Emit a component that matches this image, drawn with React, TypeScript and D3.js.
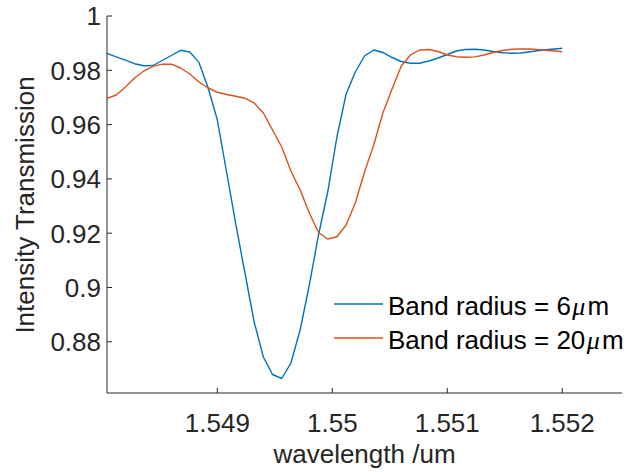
import React, { useEffect, useRef } from 'react';
import * as d3 from 'd3';

// wavelength samples (um)
const wavelength = [
  1.54804, 1.54812, 1.5482, 1.54828, 1.54836, 1.54844, 1.54852, 1.5486, 1.54868, 1.54876,
  1.54884, 1.54892, 1.549, 1.54908, 1.54916, 1.54924, 1.54932, 1.5494, 1.54948, 1.54956,
  1.54964, 1.54972, 1.5498, 1.54988, 1.54996, 1.55004, 1.55012, 1.5502, 1.55028, 1.55036,
  1.55044, 1.55052, 1.5506, 1.55068, 1.55076, 1.55084, 1.55092, 1.551, 1.55108, 1.55116,
  1.55124, 1.55132, 1.5514, 1.55148, 1.55156, 1.55164, 1.55172, 1.5518, 1.55188, 1.55196,
  1.552,
];

// Band radius = 6um
const radius6 = [
  0.98626, 0.98497, 0.98372, 0.98243, 0.98166, 0.98177, 0.98361, 0.98545, 0.98737, 0.98674,
  0.98291, 0.97348, 0.96169, 0.94254, 0.92339, 0.90534, 0.88729, 0.8744, 0.86796, 0.86648,
  0.87219, 0.88435, 0.90092, 0.91934, 0.93517, 0.95543, 0.97127, 0.97937, 0.98527, 0.98748,
  0.98656, 0.98471, 0.98324, 0.98258, 0.98258, 0.98343, 0.98453, 0.98582, 0.98711, 0.98766,
  0.98777, 0.98748, 0.98692, 0.98645, 0.9863, 0.98637, 0.98685, 0.98729, 0.98766, 0.98796,
  0.9881,
];

// Band radius = 20um
const radius20 = [
  0.96969, 0.9709, 0.97385, 0.97716, 0.97974, 0.98147, 0.98225, 0.98225, 0.98085, 0.97864,
  0.97569, 0.97348, 0.9719, 0.97109, 0.97042, 0.96969, 0.96796, 0.96427, 0.95801, 0.95175,
  0.94291, 0.93591, 0.92744, 0.92026, 0.91786, 0.91871, 0.92302, 0.93112, 0.94254, 0.95249,
  0.96427, 0.97311, 0.98158, 0.98564, 0.98748, 0.98766, 0.98692, 0.98564, 0.98497, 0.98479,
  0.98494, 0.98564, 0.98656, 0.98729, 0.98773, 0.98785, 0.98785, 0.98762, 0.98729, 0.987,
  0.98685,
];

const xTicks = [1.549, 1.55, 1.551, 1.552];
const yTicks = [0.88, 0.9, 0.92, 0.94, 0.96, 0.98, 1];

const seriesNames = ['Band radius = 6', 'Band radius = 20'];
const seriesColors = ['#0072BD', '#D95319'];

const W = 630;
const H = 472;
const FONT = "'Liberation Sans', Arial, Helvetica, sans-serif";

const App = () => {
  const chartRef = useRef<SVGSVGElement>(null);

  useEffect(() => {
    document.body.style.margin = '0';
    const svg = d3.select(chartRef.current);
    svg.selectAll('*').remove();

    const x = d3.scaleLinear().domain([1.54804, 1.55252]).range([107, 622]);
    const y = d3.scaleLinear().domain([0.86114, 1]).range([393, 16]);

    const axisColor = '#262626';

    // curves
    const series = [radius6, radius20];
    const line = d3
      .line<number>()
      .x((_, i) => x(wavelength[i]))
      .y(d => y(d));

    series.forEach((s, k) => {
      svg
        .append('path')
        .attr('d', line(s))
        .attr('fill', 'none')
        .attr('stroke', seriesColors[k])
        .attr('stroke-width', 1.4)
        .attr('stroke-linejoin', 'round');
    });

    // axis lines
    svg
      .append('line')
      .attr('x1', x.range()[0]).attr('x2', x.range()[0])
      .attr('y1', y.range()[0]).attr('y2', y.range()[1])
      .attr('stroke', axisColor);
    svg
      .append('line')
      .attr('x1', x.range()[0]).attr('x2', x.range()[1])
      .attr('y1', y.range()[0]).attr('y2', y.range()[0])
      .attr('stroke', axisColor);

    // y ticks (inward)
    const gy = svg.append('g');
    yTicks.forEach(t => {
      gy.append('line')
        .attr('x1', x.range()[0]).attr('x2', x.range()[0] + 5)
        .attr('y1', y(t)).attr('y2', y(t))
        .attr('stroke', axisColor);
      gy.append('text')
        .attr('x', 101)
        .attr('y', y(t))
        .attr('dy', '0.36em')
        .attr('text-anchor', 'end')
        .attr('fill', axisColor)
        .style('font-family', FONT)
        .style('font-size', '26px')
        .text(String(t));
    });

    // x ticks (inward)
    const gx = svg.append('g');
    xTicks.forEach(t => {
      gx.append('line')
        .attr('x1', x(t)).attr('x2', x(t))
        .attr('y1', y.range()[0]).attr('y2', y.range()[0] - 5)
        .attr('stroke', axisColor);
      gx.append('text')
        .attr('x', x(t))
        .attr('y', 431.5)
        .attr('text-anchor', 'middle')
        .attr('fill', axisColor)
        .style('font-family', FONT)
        .style('font-size', '26px')
        .text(String(t));
    });

    // axis labels
    svg
      .append('text')
      .attr('x', 364.5)
      .attr('y', 463)
      .attr('text-anchor', 'middle')
      .attr('fill', axisColor)
      .style('font-family', FONT)
      .style('font-size', '26px')
      .text('wavelength /um');

    svg
      .append('text')
      .attr('transform', `translate(34,205) rotate(-90)`)
      .attr('text-anchor', 'middle')
      .attr('fill', axisColor)
      .style('font-family', FONT)
      .style('font-size', '26px')
      .text('Intensity Transmission');

    // legend
    const legend = svg.append('g');
    const legendY = [304, 338];
    seriesNames.forEach((name, k) => {
      legend
        .append('line')
        .attr('x1', 334).attr('x2', 383)
        .attr('y1', legendY[k]).attr('y2', legendY[k])
        .attr('stroke', seriesColors[k])
        .attr('stroke-width', 1.4);
      const txt = legend
        .append('text')
        .attr('x', 388)
        .attr('y', legendY[k] + 11)
        .attr('fill', '#000')
        .style('font-family', FONT)
        .style('font-size', '26px');
      txt.append('tspan').text(name);
      txt
        .append('tspan')
        .attr('dx', 1.5)
        .style('font-family', "'Liberation Serif', 'DejaVu Serif', serif")
        .style('font-style', 'italic')
        .text('\u03bc');
      txt.append('tspan').attr('dx', 2).text('m');
    });
  }, []);

  return <svg ref={chartRef} width={W} height={H} style={{ display: 'block', background: '#fff' }} />;
};

export default App;
